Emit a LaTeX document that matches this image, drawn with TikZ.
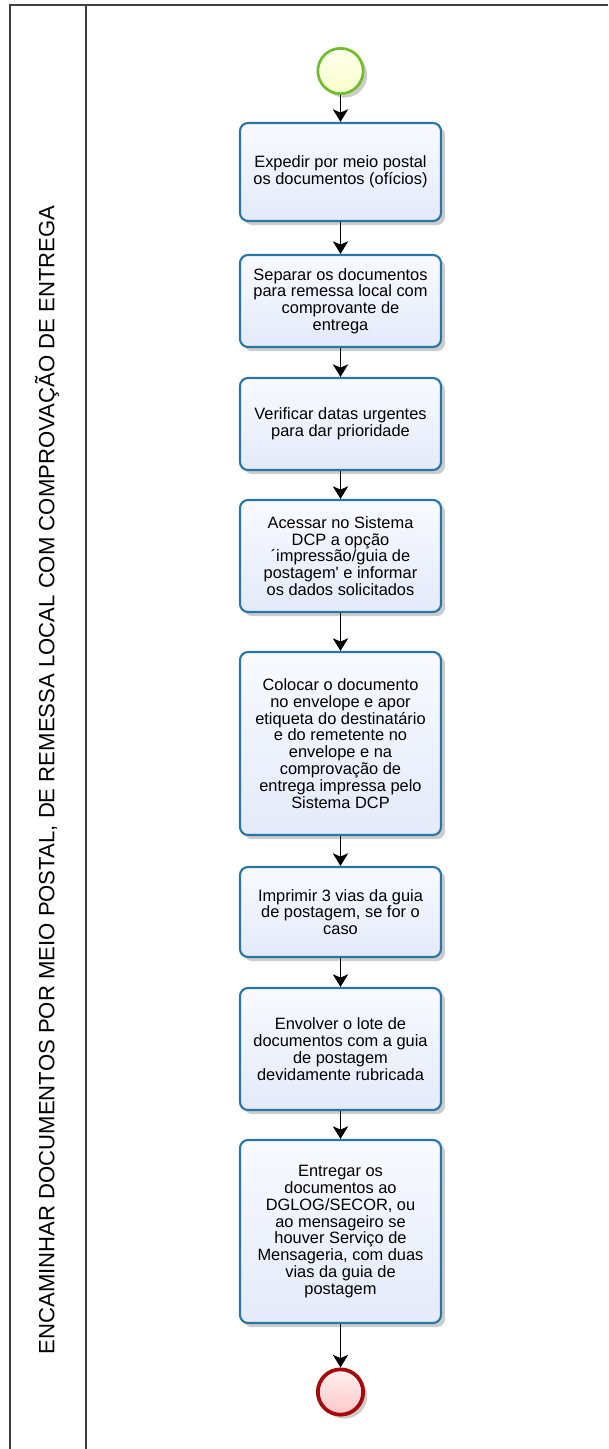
\documentclass[tikz,border=0pt]{standalone}
\usepackage{fontspec}
\setmainfont{Liberation Sans}
\usetikzlibrary{arrows.meta,shadows}
\definecolor{bordaTarefa}{RGB}{40,118,164}
\definecolor{fundoA}{RGB}{248,250,255}
\definecolor{fundoB}{RGB}{228,234,250}
\definecolor{bordaInicio}{RGB}{110,190,40}
\definecolor{bordaFim}{RGB}{165,10,10}
\definecolor{linhaRaia}{RGB}{64,64,64}

\begin{document}
\begin{tikzpicture}[x=0.75pt,y=-0.75pt,
                    tarefa/.style={draw=bordaTarefa,line width=1.6pt,rounded corners=6pt,
                        top color=fundoA,bottom color=fundoB,align=center,
                        minimum width=150.75pt,inner sep=2pt,
                        font=\fontsize{12.3}{12.6}\selectfont,
                        drop shadow={shadow xshift=3pt,shadow yshift=-3pt,opacity=.2,fill=black}},
                    evento/.style={circle,minimum size=34pt,inner sep=0pt,
                        drop shadow={shadow xshift=3pt,shadow yshift=-3pt,opacity=.2,fill=black}},
                    fluxo/.style={-{Stealth[length=9.5pt,width=11.5pt,inset=2.5pt]},line width=1.1pt}]
                    \useasboundingbox(0,0)rectangle(608,1449);
                    % raia
                    \draw[linhaRaia,line width=1.5pt](10,1449)--(10,5)--(608,5);
                    \draw[linhaRaia,line width=1.5pt](86,5)--(86,1449);
                    \node[rotate=90,font=\fontsize{16.6}{20}\selectfont](rotulo)at(47,780)
                        {ENCAMINHAR DOCUMENTOS POR MEIO POSTAL, DE REMESSA LOCAL COM COMPROVAÇÃO DE ENTREGA};
                    % eventos
                    \node[evento,draw=bordaInicio,line width=2pt,top color=white!60!yellow!18,bottom color=green!12!yellow!20](S)at(340.5,71){};
                    \node[evento,draw=bordaFim,line width=2.8pt,top color=red!6,bottom color=red!22](E)at(340.5,1392){};
                    % tarefas
                    \node[tarefa,minimum height=73.5pt](T1)at(340.5,172){Expedir por meio postal\\os documentos (ofícios)};
                    \node[tarefa,minimum height=69pt](T2)at(340.5,301){Separar os documentos\\para remessa local com\\comprovante de\\entrega};
                    \node[tarefa,minimum height=69pt](T3)at(340.5,424){Verificar datas urgentes\\para dar prioridade};
                    \node[tarefa,minimum height=84pt](T4)at(340.5,556){Acessar no Sistema\\DCP a opção\\´impressão/guia de\\postagem\textquotesingle{} e informar\\os dados solicitados};
                    \node[tarefa,minimum height=137.25pt](T5)at(340.5,743.5){Colocar o documento\\no envelope e apor\\etiqueta do destinatário\\e do remetente no\\envelope e na\\comprovação de\\entrega impressa pelo\\Sistema DCP};
                    \node[tarefa,minimum height=67.5pt](T6)at(340.5,912){Imprimir 3 vias da guia\\de postagem, se for o\\caso};
                    \node[tarefa,minimum height=91.5pt](T7)at(340.5,1049){Envolver o lote de\\documentos com a guia\\de postagem\\devidamente rubricada};
                    \node[tarefa,minimum height=137.25pt](T8)at(340.5,1231.5){Entregar os\\documentos ao\\DGLOG/SECOR,  ou\\ao mensageiro se\\houver Serviço de\\Mensageria, com duas\\vias da guia de\\postagem};
                    % fluxo
                    \foreach \a/\b in {S/T1,T1/T2,T2/T3,T3/T4,T4/T5,T5/T6,T6/T7,T7/T8,T8/E}
                        \draw[fluxo](\a.south)--(\b.north);
                \end{tikzpicture}
\end{document}
